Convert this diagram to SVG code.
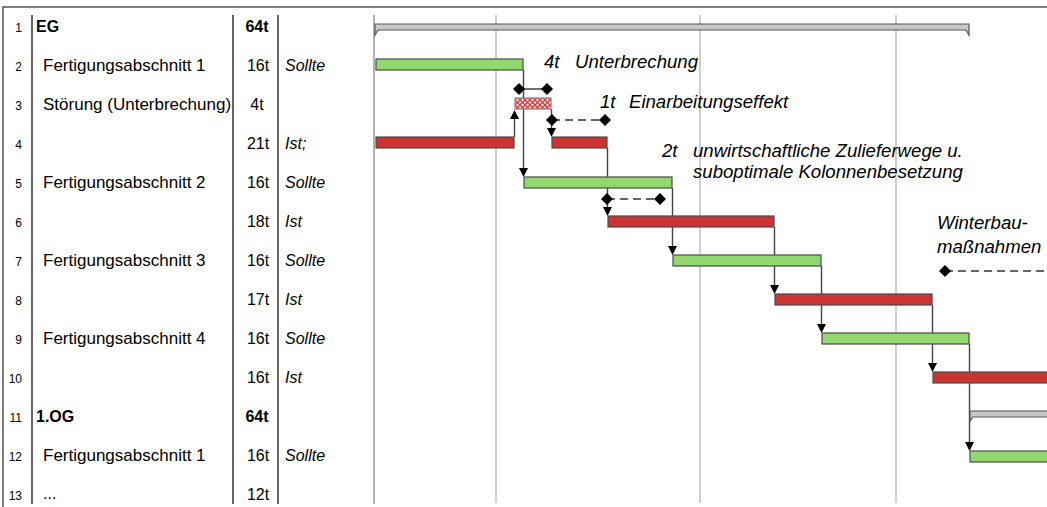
<svg xmlns="http://www.w3.org/2000/svg" width="1047" height="507" viewBox="0 0 1047 507">
  <style>
    .frame { stroke: #555; stroke-width: 1.5; fill: none; }
    .col { stroke: #333; stroke-width: 1.5; }
    .axis { stroke: #999; stroke-width: 1.5; }
    .grid { stroke: #cfcfcf; stroke-width: 2; }
    .num { font-family: "Liberation Sans", Arial, sans-serif; font-size: 12px; fill: #000; text-anchor: end; }
    .lbl { font-family: "Liberation Sans", Arial, sans-serif; font-size: 16px; fill: #000; }
    .name { font-size: 17px; }
    .b { font-weight: bold; }
    .dur { text-anchor: middle; }
    .kind { font-style: italic; }
    .note { font-family: "Liberation Sans", Arial, sans-serif; font-size: 18.6px; font-style: italic; fill: #000; }
    .soll { fill: #92d86f; stroke: #4a4a4a; stroke-width: 1.2; }
    .ist { fill: #cc3333; stroke: #4a4a4a; stroke-width: 1.2; }
    .sum { fill: #c8c8c8; stroke: #555; stroke-width: 1.2; }
    .stoer { fill: url(#hatch); stroke: #888; stroke-width: 1.2; }
    .link { stroke: #444; stroke-width: 1.4; fill: none; }
    .dash { stroke: #333; stroke-width: 1.4; stroke-dasharray: 8 5; fill: none; }
    .solid { stroke: #333; stroke-width: 1.4; fill: none; }
    .head { fill: #000; }
  </style>
  <defs>
    <pattern id="hatch" width="5" height="5" patternUnits="userSpaceOnUse">
      <rect width="5" height="5" fill="#ffe6e6"/>
      <path d="M0,0 L5,5 M5,0 L0,5" stroke="#e03a3a" stroke-width="1.3"/>
    </pattern>
    <path id="dia" d="M0,-6 L6,0 L0,6 L-6,0 Z" fill="#000"/>
  </defs>

  <rect width="1047" height="507" fill="#fff"/>

  <!-- frame and table columns -->
  <g id="table-grid">
    <path class="frame" d="M3,507 V7 H1047"/>
    <line class="col" x1="32" y1="15" x2="32" y2="504"/>
    <line class="col" x1="233" y1="15" x2="233" y2="504"/>
    <line class="col" x1="278" y1="15" x2="278" y2="504"/>
    <line class="grid" x1="496" y1="15" x2="496" y2="503"/>
    <line class="grid" x1="700" y1="15" x2="700" y2="503"/>
    <line class="grid" x1="896" y1="15" x2="896" y2="503"/>
    <line class="axis" x1="374" y1="15" x2="374" y2="504"/>
  </g>

  <!-- table rows -->
  <g id="row-numbers">
    <text class="num" x="22" y="32">1</text>
    <text class="num" x="22" y="71">2</text>
    <text class="num" x="22" y="110">3</text>
    <text class="num" x="22" y="149">4</text>
    <text class="num" x="22" y="188">5</text>
    <text class="num" x="22" y="227">6</text>
    <text class="num" x="22" y="266">7</text>
    <text class="num" x="22" y="305">8</text>
    <text class="num" x="22" y="344">9</text>
    <text class="num" x="22" y="383">10</text>
    <text class="num" x="22" y="422">11</text>
    <text class="num" x="22" y="461">12</text>
    <text class="num" x="22" y="500">13</text>
  </g>
  <g id="task-names">
    <text class="lbl b" x="36" y="32">EG</text>
    <text class="lbl name" x="43" y="71">Fertigungsabschnitt 1</text>
    <text class="lbl name" x="43" y="110">Störung (Unterbrechung)</text>
    <text class="lbl name" x="43" y="188">Fertigungsabschnitt 2</text>
    <text class="lbl name" x="43" y="266">Fertigungsabschnitt 3</text>
    <text class="lbl name" x="43" y="344">Fertigungsabschnitt 4</text>
    <text class="lbl b" x="36" y="422">1.OG</text>
    <text class="lbl name" x="43" y="461">Fertigungsabschnitt 1</text>
    <text class="lbl" x="43" y="499">...</text>
  </g>
  <g id="durations">
    <text class="lbl b dur" x="257" y="32">64t</text>
    <text class="lbl dur" x="258" y="71">16t</text>
    <text class="lbl dur" x="257" y="110">4t</text>
    <text class="lbl dur" x="258" y="149">21t</text>
    <text class="lbl dur" x="258" y="188">16t</text>
    <text class="lbl dur" x="258" y="227">18t</text>
    <text class="lbl dur" x="258" y="266">16t</text>
    <text class="lbl dur" x="258" y="305">17t</text>
    <text class="lbl dur" x="258" y="344">16t</text>
    <text class="lbl dur" x="258" y="383">16t</text>
    <text class="lbl b dur" x="257" y="422">64t</text>
    <text class="lbl dur" x="258" y="461">16t</text>
    <text class="lbl dur" x="258" y="500">12t</text>
  </g>
  <g id="kinds">
    <text class="lbl kind" x="285" y="71">Sollte</text>
    <text class="lbl kind" x="285" y="149">Ist;</text>
    <text class="lbl kind" x="285" y="188">Sollte</text>
    <text class="lbl kind" x="285" y="227">Ist</text>
    <text class="lbl kind" x="285" y="266">Sollte</text>
    <text class="lbl kind" x="285" y="305">Ist</text>
    <text class="lbl kind" x="285" y="344">Sollte</text>
    <text class="lbl kind" x="285" y="383">Ist</text>
    <text class="lbl kind" x="285" y="461">Sollte</text>
  </g>

  <!-- dependency links between bars -->
  <g id="connectors">
    <line class="link" x1="523.5" y1="70" x2="523.5" y2="170"/>
    <path class="head" d="M519,168 H528 L523.5,177 Z"/>

    <line class="link" x1="514.5" y1="137" x2="514.5" y2="116"/>
    <path class="head" d="M510,119 H519 L514.5,110 Z"/>

    <line class="link" x1="551.5" y1="109" x2="551.5" y2="130"/>
    <path class="head" d="M547,128 H556 L551.5,137 Z"/>

    <line class="link" x1="607.5" y1="148" x2="607.5" y2="209"/>
    <path class="head" d="M603,207 H612 L607.5,216 Z"/>

    <line class="link" x1="672.5" y1="188" x2="672.5" y2="248"/>
    <path class="head" d="M668,246 H677 L672.5,255 Z"/>

    <line class="link" x1="774.5" y1="227" x2="774.5" y2="287"/>
    <path class="head" d="M770,285 H779 L774.5,294 Z"/>

    <line class="link" x1="821.5" y1="266" x2="821.5" y2="326"/>
    <path class="head" d="M817,324 H826 L821.5,333 Z"/>

    <line class="link" x1="932.5" y1="305" x2="932.5" y2="365"/>
    <path class="head" d="M928,363 H937 L932.5,372 Z"/>

    <line class="link" x1="969.5" y1="344" x2="969.5" y2="444"/>
    <path class="head" d="M965,442 H974 L969.5,451 Z"/>

    <!-- delay markers -->
    <line class="solid" x1="519" y1="89" x2="547" y2="89"/>
    <use href="#dia" x="519" y="89"/>
    <use href="#dia" x="547" y="89"/>

    <line class="dash" x1="552" y1="120" x2="605" y2="120"/>
    <use href="#dia" x="552" y="120"/>
    <use href="#dia" x="605" y="120"/>

    <line class="dash" x1="607" y1="199" x2="660" y2="199"/>
    <use href="#dia" x="607" y="199"/>
    <use href="#dia" x="660" y="199"/>

    <line class="dash" x1="945" y1="271" x2="1047" y2="271"/>
    <use href="#dia" x="945" y="271"/>
  </g>

  <!-- bars -->
  <g id="bar-eg"><path class="sum" d="M375,24 H969 V35 L966,30 H378 L375,35 Z"/></g>
  <g id="bar-fa1-soll"><rect class="soll" x="376" y="59" width="147" height="11"/></g>
  <g id="bar-stoerung"><rect class="stoer" x="515" y="98" width="36" height="11"/></g>
  <g id="bar-fa1-ist-a"><rect class="ist" x="376" y="137" width="138" height="11"/></g>
  <g id="bar-fa1-ist-b"><rect class="ist" x="552" y="137" width="55" height="11"/></g>
  <g id="bar-fa2-soll"><rect class="soll" x="524" y="177" width="148" height="11"/></g>
  <g id="bar-fa2-ist"><rect class="ist" x="608" y="216" width="166" height="11"/></g>
  <g id="bar-fa3-soll"><rect class="soll" x="673" y="255" width="148" height="11"/></g>
  <g id="bar-fa3-ist"><rect class="ist" x="775" y="294" width="157" height="11"/></g>
  <g id="bar-fa4-soll"><rect class="soll" x="822" y="333" width="147" height="11"/></g>
  <g id="bar-fa4-ist"><rect class="ist" x="933" y="372" width="120" height="11"/></g>
  <g id="bar-1og"><path class="sum" d="M970,411 H1052 V417 H973 L970,421 Z"/></g>
  <g id="bar-1og-fa1-soll"><rect class="soll" x="970" y="451" width="90" height="11"/></g>

  <!-- annotations -->
  <g id="note-unterbrechung">
    <text class="note" x="544" y="68">4t</text>
    <text class="note" x="575" y="68">Unterbrechung</text>
  </g>
  <g id="note-einarbeitung">
    <text class="note" x="600" y="108">1t</text>
    <text class="note" x="629" y="108">Einarbeitungseffekt</text>
  </g>
  <g id="note-zulieferwege">
    <text class="note" x="662" y="157">2t</text>
    <text class="note" x="693" y="157">unwirtschaftliche Zulieferwege u.</text>
    <text class="note" x="693" y="178">suboptimale Kolonnenbesetzung</text>
  </g>
  <g id="note-winterbau">
    <text class="note" x="937" y="229">Winterbau-</text>
    <text class="note" x="937" y="253">maßnahmen</text>
  </g>
</svg>
